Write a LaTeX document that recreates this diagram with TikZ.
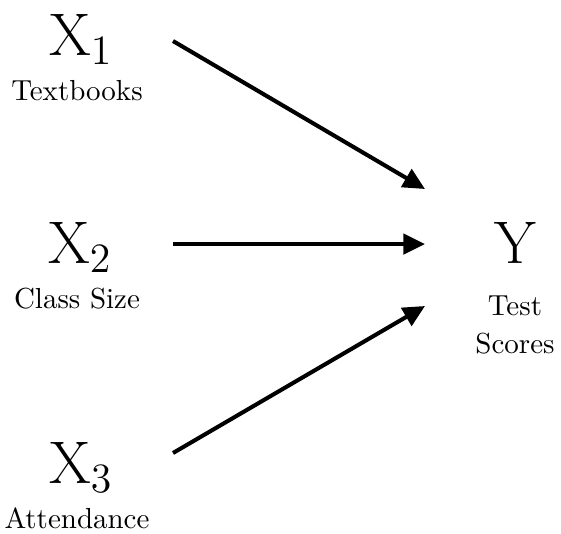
\documentclass[tikz,border=0pt]{standalone}
\usetikzlibrary{arrows.meta}

\begin{document}
\begin{tikzpicture}[
            x=0.345pt, y=-0.345pt,
            var/.style={anchor=base,font=\fontsize{22}{26}\selectfont,inner sep=0pt},
            lab/.style={anchor=base,align=center,inner sep=0pt},
            arr/.style={line width=1.4pt,-{Triangle[length=7.5pt,width=7pt]}},
        ]

        \useasboundingbox (0,0) rectangle (561,533);

        \node[var] (x1) at (81,55) {$\mathrm{X}_1$};
        \node[lab] (x1lab) at (77,100) {Textbooks};
        \node[var] (x2) at (80,263) {$\mathrm{X}_2$};
        \node[lab] (x2lab) at (77,308) {Class Size};
        \node[var] (x3) at (81,483) {$\mathrm{X}_3$};
        \node[lab] (x3lab) at (77,528) {Attendance};
        \node[var] (y) at (516,263) {$\mathrm{Y}$};
        \node[lab] (ylab) at (515,353) {Test\\[1pt]Scores};

        % arrow ends
        \coordinate (s1) at (173,41);
        \coordinate (s2) at (173,244);
        \coordinate (s3) at (173,453);
        \coordinate (t1) at (425,189);
        \coordinate (t2) at (425,244);
        \coordinate (t3) at (425,306);

        \path
            (s1) edge[arr] (t1)
            (s2) edge[arr] (t2)
            (s3) edge[arr] (t3)
        ;

\end{tikzpicture}
\end{document}
